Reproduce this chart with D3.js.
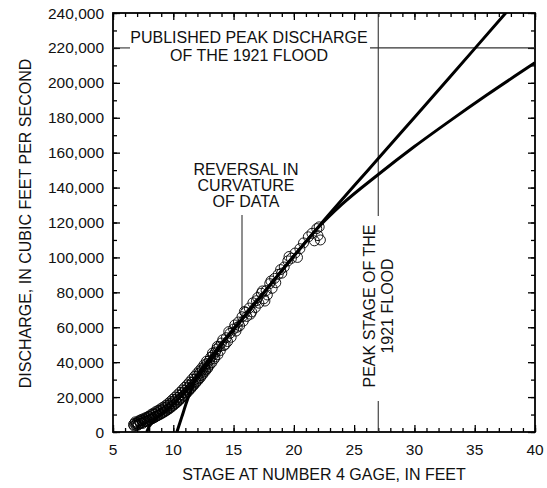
<!DOCTYPE html>
<html>
<head>
<meta charset="utf-8">
<script src="https://cdn.jsdelivr.net/npm/d3@7"></script>
<style>
  html, body { margin: 0; padding: 0; background: #fff; }
  svg { display: block; }
  text { font-family: "Liberation Sans", Arial, Helvetica, sans-serif; fill: #111; }
</style>
</head>
<body>
<svg id="chart" width="547" height="488"></svg>
<script>
// Measured stage / discharge pairs (stage in feet, discharge in cubic feet per second)
const observed = [
  [6.7,4300],[6.8,5000],[6.9,3800],[7.0,5400],[7.1,4300],[7.2,6000],[7.3,4900],[7.4,6600],
  [7.5,5600],[7.6,7100],[7.7,6000],[7.8,7700],[7.9,6700],[8.0,8600],[8.1,7300],[8.2,9300],
  [8.3,8000],[8.4,10100],[8.5,8800],[8.6,10900],[8.7,9500],[8.8,11600],[8.9,10300],[9.0,12500],
  [9.1,11100],[9.2,13300],[9.3,12000],[9.4,14200],[9.5,13000],[9.6,15300],[9.7,13900],[9.8,16300],
  [9.9,15000],[10.0,17500],[10.1,16100],[10.2,18600],[10.3,17200],[10.4,19800],[10.5,18500],
  [10.6,21200],[10.7,19800],[10.8,22500],[10.9,21000],[11.0,24000],[11.1,22600],[11.2,25300],
  [11.3,24200],[11.4,27000],[11.5,25600],[11.6,28500],[11.7,27300],[11.8,30200],[11.9,28800],
  [12.0,32000],[12.1,30500],[12.2,33800],[12.3,32300],[12.4,35500],[12.5,34200],[12.6,37300],
  [12.7,35800],[12.8,39200],[12.9,37500],[13.0,41000],[13.1,42800],[13.2,39800],[13.3,44000],
  [13.4,41900],[13.5,45800],[13.6,47500],[13.7,44300],[13.8,48900],[13.9,46700],[14.0,51000],
  [14.1,52800],[14.2,49500],[14.4,54000],[14.5,51800],[14.7,56500],[14.8,54300],[15.0,59000],
  [15.1,61300],[15.2,57800],[15.4,63000],[15.5,60800],[15.7,66000],[15.8,63500],[16.0,68500],
  [16.1,66200],[16.3,71000],[16.5,68800],[16.6,74000],[16.8,71300],[17.0,77000],[17.1,73800],
  [17.3,79500],[17.5,76300],[17.7,81000],[17.8,78500],[18.0,85000],[18.2,82300],[18.4,88000],
  [18.7,90300],[18.9,93000],[19.2,94500],[19.5,98000],[19.8,99500],[20.1,102500],[20.3,100000],
  [20.5,105000],[20.8,108300],[21.2,111800],[21.5,113800],[21.7,109500],[21.9,116500],
  [22.0,112500],[22.2,110000],[22.1,117500],
  [6.75,3500],[6.85,5800],[6.95,4600],[7.05,3900],[7.15,6500],[7.25,5200],[7.35,7200],[7.45,4900],
  [7.55,7700],[7.65,6300],[7.75,8400],[7.85,5900],[7.95,9000],[8.05,7000],[8.15,10000],[8.25,7600],
  [8.35,10800],[8.45,8300],[8.55,11700],[8.65,9200],[8.75,12400],[8.85,9800],[8.95,13300],
  [9.05,10600],[9.15,14200],[9.25,11400],[9.35,15100],[9.45,12300],[9.55,16200],[9.65,13200],
  [9.75,17400],[9.85,14300],[9.95,18700],[10.05,15400],[10.15,20000],[10.25,16600],[10.35,21300],
  [10.45,17800],[10.55,22700],[10.65,19200],[10.75,24100],[10.85,20500],[10.95,25600],
  [11.05,21800],[11.15,27000],[11.25,23300],[11.35,28600],[11.45,24800],[11.55,30200],
  [11.65,26400],[11.75,31800],[11.85,28000],[11.95,33400],[12.05,29600],[12.15,35000],
  [12.25,31200],[12.35,36600],[12.45,33000],[12.55,38500],[12.65,34800],[12.75,40500],
  [12.85,36500],[13.05,38800],[13.25,45200],[13.45,43000],[13.65,49000],[14.3,50200],
  [14.6,57500],[15.3,60000],[15.9,69000],[16.4,67500],[16.9,75200],[17.4,80800],[17.6,75000],
  [18.1,86500],[18.5,85500],[19.0,91000],[19.6,100500]
];

// Rating curve extended with a point of zero flow near 10.3 ft
const ratingA = [
  [10.3,0],[10.7,8500],[11.1,17000],[11.5,24500],[12.0,32000],[12.5,37300],[13.0,41800],
  [14.0,50500],[15.0,59000],[16.0,67300],[18.0,84000],[20.0,100800],[22.0,117200],
  [25.0,141000],[27.0,156600],[30.0,180200],[33.0,203800],[35.0,219600],[37.8,241800]
];

// Rating curve fitted through the low-water data, bending over above 22 ft
const ratingB = [
  [7.8,0],[7.95,2500],[8.2,5000],[8.6,7800],[9.0,10000],[9.5,12800],[10.0,16000],
  [10.5,19500],[11.0,23300],[11.5,27200],[12.0,31300],[12.5,35600],[13.0,40000],
  [13.5,44800],[14.0,50000],[15.0,58500],[16.0,67000],[18.0,84000],[20.0,100800],
  [22.0,117000],[24.0,130500],[27.0,147500],[30.0,163500],[33.0,178500],[36.0,193000],
  [40.0,211500]
];

const stageTicks = [5, 10, 15, 20, 25, 30, 35, 40];
const dischargeTicks = [0, 20000, 40000, 60000, 80000, 100000, 120000, 140000,
                        160000, 180000, 200000, 220000, 240000];
const peakStage1921 = 27;
const publishedPeak1921 = 220000;

const svg = d3.select("#chart");
const pLeft = 113, pRight = 535, pTop = 13, pBottom = 432;

const x = d3.scaleLinear().domain([5, 40]).range([pLeft, pRight]);
const y = d3.scaleLinear().domain([0, 240000]).range([pBottom, pTop]);

const fmt = d3.format(",");

svg.append("defs").append("clipPath").attr("id", "plot")
  .append("rect").attr("x", pLeft).attr("y", pTop)
  .attr("width", pRight - pLeft).attr("height", pBottom - pTop);

// Ticks on all four sides, pointing inward
const minorX = d3.range(5, 41, 1);
const minorY = d3.range(0, 240001, 10000);

function tickAxis(axisFn, scale, values, size) {
  return axisFn(scale).tickValues(values).tickSize(size).tickFormat("");
}

const gAxes = svg.append("g").attr("class", "axes");

gAxes.append("g").attr("transform", `translate(0,${pBottom})`)
  .call(tickAxis(d3.axisTop, x, minorX, 4));
gAxes.append("g").attr("transform", `translate(0,${pBottom})`)
  .call(tickAxis(d3.axisTop, x, stageTicks, 7));
gAxes.append("g").attr("transform", `translate(0,${pTop})`)
  .call(tickAxis(d3.axisBottom, x, minorX, 4));
gAxes.append("g").attr("transform", `translate(0,${pTop})`)
  .call(tickAxis(d3.axisBottom, x, stageTicks, 7));
gAxes.append("g").attr("transform", `translate(${pLeft},0)`)
  .call(tickAxis(d3.axisRight, y, minorY, 4));
gAxes.append("g").attr("transform", `translate(${pLeft},0)`)
  .call(tickAxis(d3.axisRight, y, dischargeTicks, 7));
gAxes.append("g").attr("transform", `translate(${pRight},0)`)
  .call(tickAxis(d3.axisLeft, y, minorY, 4));
gAxes.append("g").attr("transform", `translate(${pRight},0)`)
  .call(tickAxis(d3.axisLeft, y, dischargeTicks, 7));

gAxes.selectAll(".domain").remove();
gAxes.selectAll(".tick line").attr("stroke", "#000").attr("stroke-width", 1.3);

// Tick labels
const gLab = svg.append("g").style("font-size", "15.5px");
gLab.selectAll("text.xl").data(stageTicks).join("text")
  .attr("x", d => x(d)).attr("y", pBottom + 23)
  .attr("text-anchor", "middle").text(d => d);
gLab.selectAll("text.yl").data(dischargeTicks).join("text")
  .attr("x", pLeft - 9).attr("y", d => y(d) + 5.5)
  .attr("text-anchor", "end").text(d => fmt(d));

// Frame
svg.append("rect").attr("x", pLeft).attr("y", pTop)
  .attr("width", pRight - pLeft).attr("height", pBottom - pTop)
  .attr("fill", "none").attr("stroke", "#000").attr("stroke-width", 1.8);

// Axis titles
svg.append("text").attr("x", (pLeft + pRight) / 2).attr("y", 480)
  .attr("text-anchor", "middle").style("font-size", "16px")
  .text("STAGE AT NUMBER 4 GAGE, IN FEET");
svg.append("text")
  .attr("transform", `translate(31,${(pTop + pBottom) / 2 + 1}) rotate(-90)`)
  .attr("text-anchor", "middle").style("font-size", "16px")
  .text("DISCHARGE, IN CUBIC FEET PER SECOND");

// Reference lines for the 1921 flood
const ref = svg.append("g").attr("stroke", "#333").attr("stroke-width", 1.1);
ref.append("line")
  .attr("x1", x(peakStage1921)).attr("x2", x(peakStage1921))
  .attr("y1", pTop).attr("y2", 216);
ref.append("line")
  .attr("x1", x(peakStage1921)).attr("x2", x(peakStage1921))
  .attr("y1", 401).attr("y2", pBottom);
ref.append("line")
  .attr("x1", pLeft).attr("x2", 130)
  .attr("y1", y(publishedPeak1921)).attr("y2", y(publishedPeak1921));
ref.append("line")
  .attr("x1", 370).attr("x2", pRight)
  .attr("y1", y(publishedPeak1921)).attr("y2", y(publishedPeak1921));
// pointer to the change in curvature
ref.append("line").attr("x1", 242).attr("x2", 242).attr("y1", 215).attr("y2", 310);

// Observations
const plot = svg.append("g").attr("clip-path", "url(#plot)");
plot.selectAll("circle").data(observed).join("circle")
  .attr("cx", d => x(d[0])).attr("cy", d => y(d[1])).attr("r", 5)
  .attr("fill", "none").attr("stroke", "#000").attr("stroke-width", 0.9);

// Rating curves
const line = d3.line().x(d => x(d[0])).y(d => y(d[1])).curve(d3.curveMonotoneX);
plot.selectAll("path.rating").data([ratingA, ratingB]).join("path")
  .attr("class", "rating").attr("d", line)
  .attr("fill", "none").attr("stroke", "#000").attr("stroke-width", 3)
  .attr("stroke-linejoin", "round");

// Annotations
const ann = svg.append("g").style("font-size", "16px").attr("text-anchor", "middle");
ann.append("text").attr("x", 249).attr("y", 43).text("PUBLISHED PEAK DISCHARGE");
ann.append("text").attr("x", 249).attr("y", 61).text("OF THE 1921 FLOOD");
ann.append("text").attr("x", 246).attr("y", 175).text("REVERSAL IN");
ann.append("text").attr("x", 246).attr("y", 191).text("CURVATURE");
ann.append("text").attr("x", 246).attr("y", 207).text("OF DATA");
ann.append("text").attr("transform", "translate(375,306) rotate(-90)").text("PEAK STAGE OF THE");
ann.append("text").attr("transform", "translate(393,306) rotate(-90)").text("1921 FLOOD");
</script>
</body>
</html>
